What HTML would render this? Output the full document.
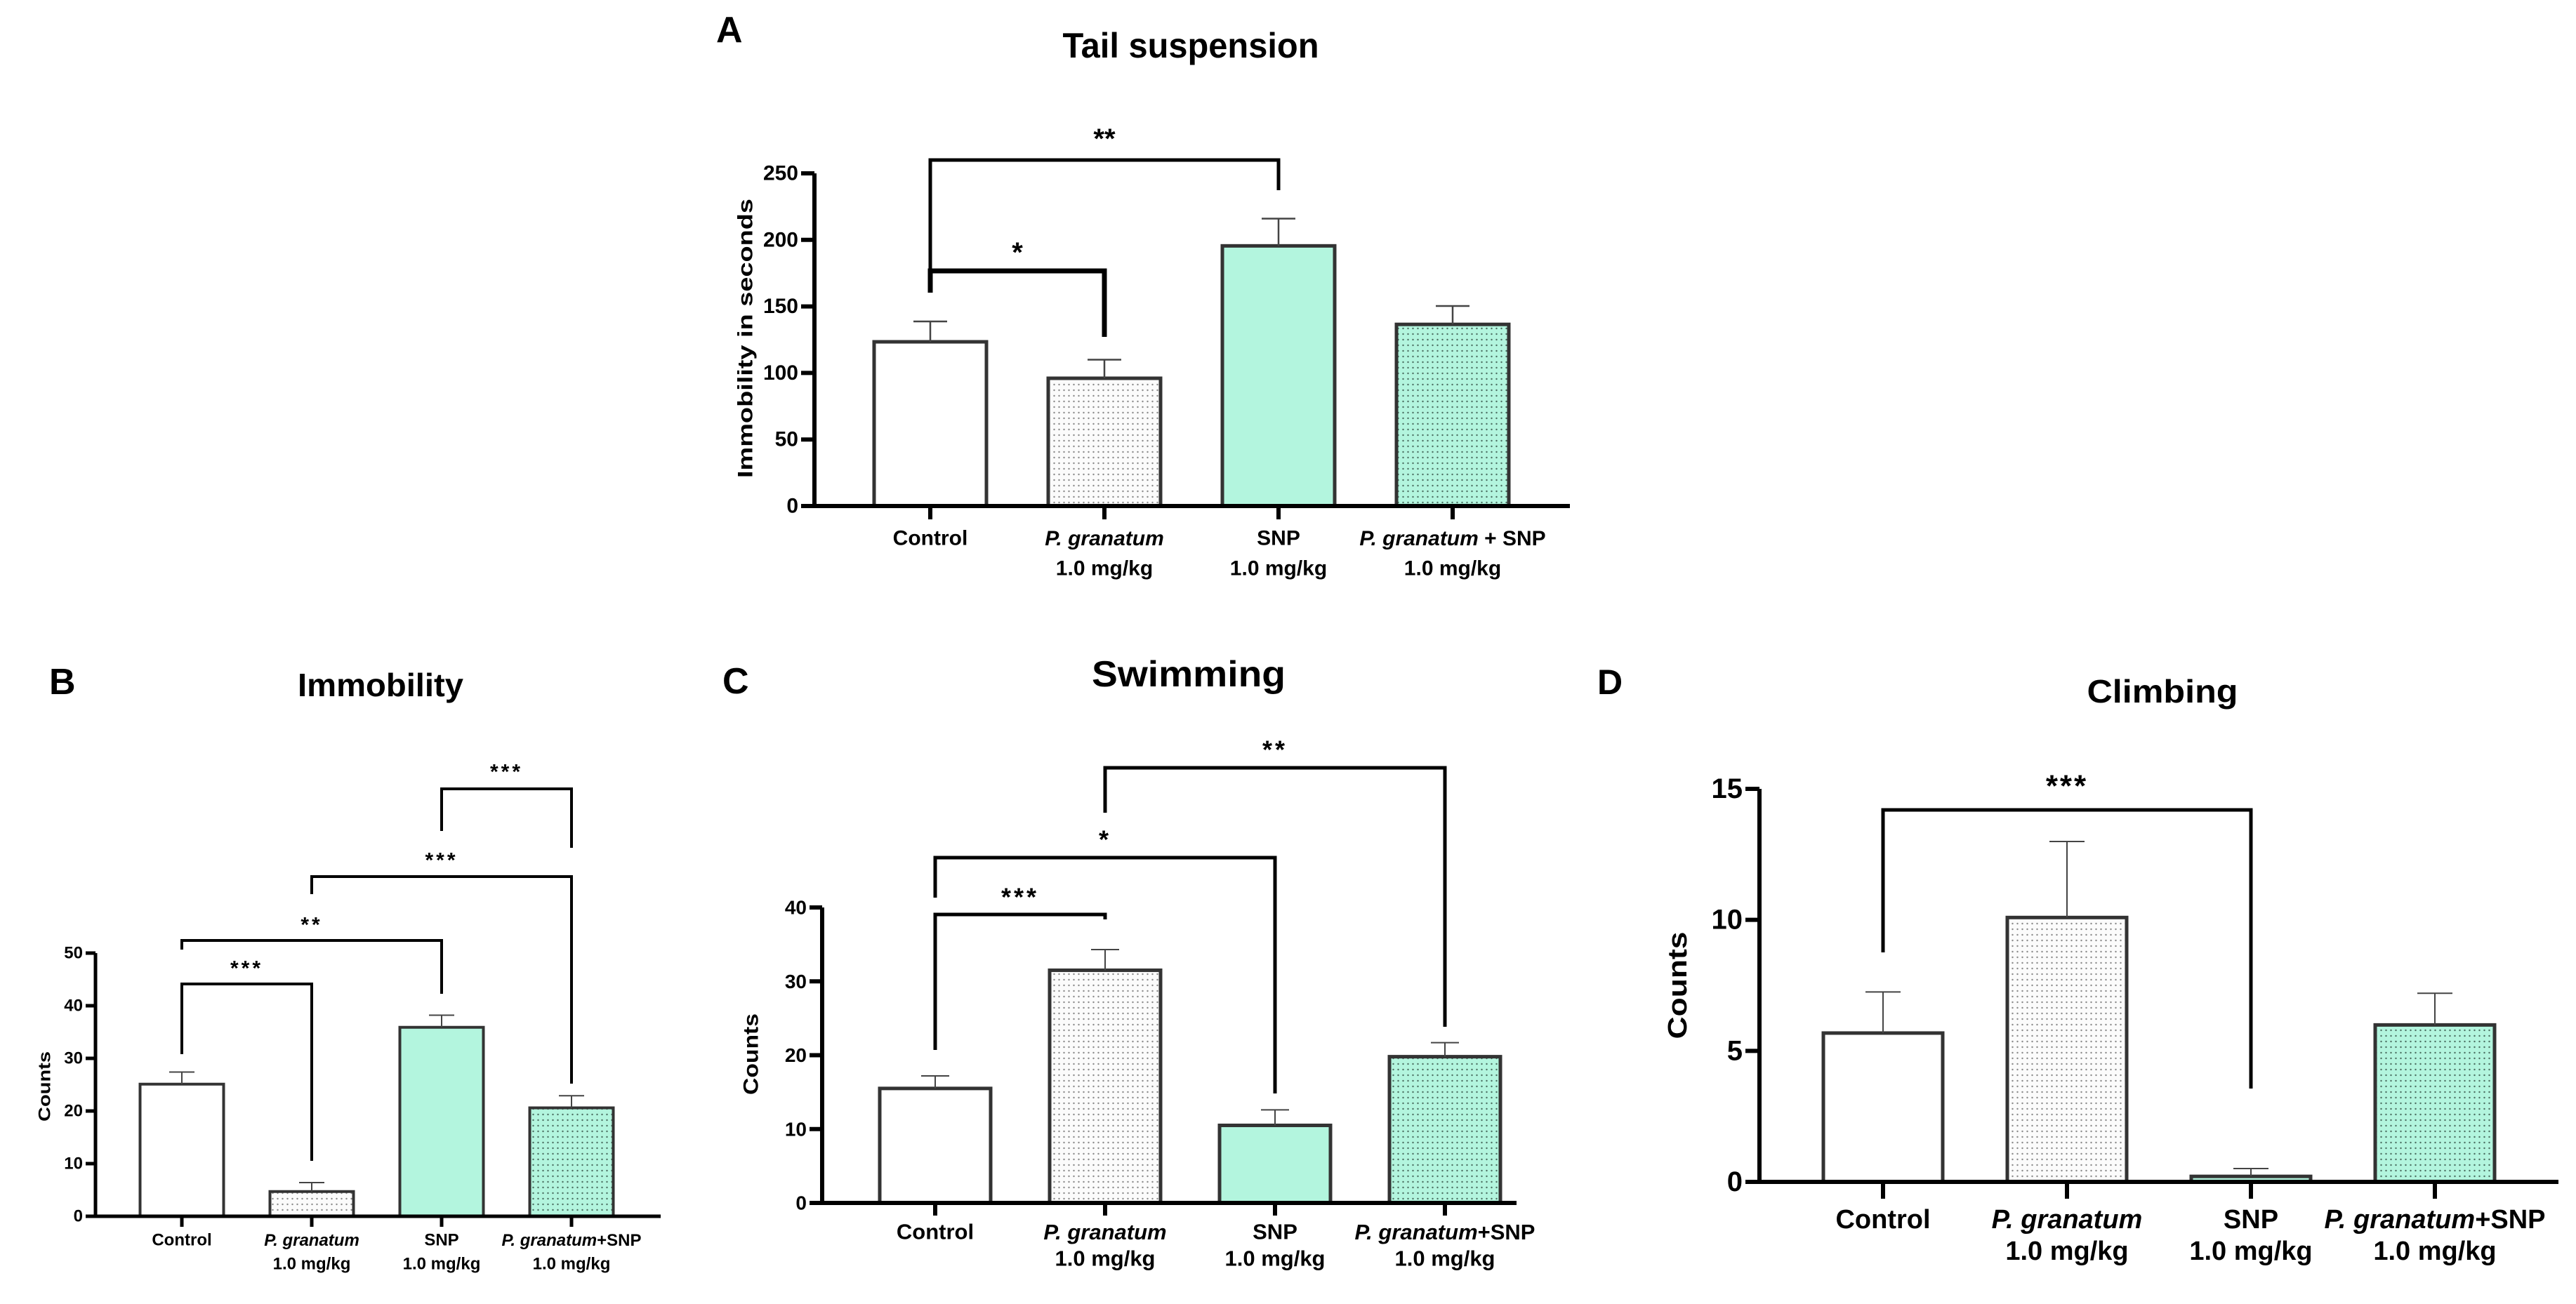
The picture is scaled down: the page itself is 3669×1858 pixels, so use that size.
<!DOCTYPE html>
<html><head><meta charset="utf-8"><style>
html,body{margin:0;padding:0;background:#fff;}
svg{display:block;font-family:"Liberation Sans",sans-serif;}
</style></head><body>
<svg id="fig" width="3669" height="1858" viewBox="0 0 3669 1858" xmlns="http://www.w3.org/2000/svg">
<defs>
<pattern id="dotsW" patternUnits="userSpaceOnUse" width="7" height="8"><rect width="7" height="8" fill="#fbfbfb"/><circle cx="3.5" cy="4" r="1.2" fill="#8a8a8a"/></pattern>
<pattern id="dotsG" patternUnits="userSpaceOnUse" width="7" height="8"><rect width="7" height="8" fill="#b3f5de"/><circle cx="3.5" cy="4" r="1.2" fill="#4c6f62"/></pattern>
</defs>
</svg>
<script>
const categories = ["Control", "P. granatum", "SNP", "P. granatum + SNP"];
const tailMeans = [123.4, 96, 195.5, 136.5];
const tailErrs = [15.3, 14, 20.5, 13.8];
const tailTicks = [0, 50, 100, 150, 200, 250];
const immMeans = [25.1, 4.7, 35.9, 20.6];
const immErrs = [2.3, 1.7, 2.3, 2.3];
const immTicks = [0, 10, 20, 30, 40, 50];
const swimMeans = [15.5, 31.5, 10.5, 19.8];
const swimErrs = [1.7, 2.8, 2.1, 1.9];
const swimTicks = [0, 10, 20, 30, 40];
const climbMeans = [5.68, 10.09, 0.21, 5.99];
const climbErrs = [1.57, 2.9, 0.3, 1.21];
const climbTicks = [0, 5, 10, 15];

const svg = document.getElementById('fig');
const NS = 'http://www.w3.org/2000/svg';
function mk(tag, attrs, parent) {
  const e = document.createElementNS(NS, tag);
  for (const k in attrs) e.setAttribute(k, attrs[k]);
  (parent || svg).appendChild(e);
  return e;
}
const fills = ['#ffffff', 'url(#dotsW)', '#b3f5de', 'url(#dotsG)'];

function panel(c, means, errs, ticks) {
  const g = mk('g', {});
  
  
  const max = ticks[ticks.length - 1];
  const y = v => c.y0 + (c.yTop - c.y0) * v / max;
  const cx = i => c.c0 + i * c.step;
  // panel letter
  const L = mk('text', {x: c.lx, y: c.ly, 'font-size': c.lfs, 'font-weight': 'bold'}, g);
  L.textContent = c.letter;
  
  
  const T = mk('text', {x: c.tx, y: c.ty, 'font-size': c.tfs, 'font-weight': 'bold', 'text-anchor': 'middle', 'dominant-baseline': 'central', textLength: c.tw, lengthAdjust: 'spacingAndGlyphs'}, g);
  T.textContent = c.title;
  
  
  // bars
  means.forEach((m, i) => {
    const b = mk('rect', {x: cx(i) - c.bw / 2, y: y(m), width: c.bw, height: c.y0 - y(m), fill: fills[i], stroke: '#333', 'stroke-width': c.bs}, g);
    
    
    const e = mk('path', {d: `M${cx(i)},${y(m)} V${y(m + errs[i])} M${cx(i) - c.cap / 2},${y(m + errs[i])} H${cx(i) + c.cap / 2}`, stroke: '#444', 'stroke-width': c.es, fill: 'none'}, g);
    
    
  });
  // axes
  const ax = mk('path', {d: `M${c.ax},${y(max)} V${c.y0} H${c.xEnd}`, stroke: '#000', 'stroke-width': c.aw, fill: 'none'}, g);
  
  
  ticks.forEach(t => {
    const tk = mk('path', {d: `M${c.ax - c.tl},${y(t)} H${c.ax}`, stroke: '#000', 'stroke-width': c.aw}, g);
    
    
    const tl = mk('text', {x: c.ax - c.tl - 4, y: y(t), 'font-size': c.tkfs, 'font-weight': 'bold', 'text-anchor': 'end', 'dominant-baseline': 'central'}, g);
    tl.textContent = t;
    
    
  });
  const yt = mk('text', {x: 0, y: 0, 'font-size': c.ytfs, 'font-weight': 'bold', 'text-anchor': 'middle', 'dominant-baseline': 'central', transform: `translate(${c.ytx},${c.yty}) rotate(-90)`, textLength: c.ytw, lengthAdjust: 'spacingAndGlyphs'}, g);
  yt.textContent = c.ytitle;
  
  
  categories.forEach((cat, i) => {
    const tk = mk('path', {d: `M${cx(i)},${c.y0} V${c.y0 + c.xtl}`, stroke: '#000', 'stroke-width': c.aw}, g);
    
    
    const t1 = mk('text', {x: cx(i), y: c.xl1, 'font-size': c.xfs, 'font-weight': 'bold', 'text-anchor': 'middle', 'dominant-baseline': 'central'}, g);
    
    
    if (cat.indexOf('P. granatum') === 0) {
      const s = mk('tspan', {'font-style': 'italic'}, t1);
      s.textContent = 'P. granatum';
      if (cat.length > 11) { const s2 = mk('tspan', {}, t1); s2.textContent = c.sep + 'SNP'; }
    } else t1.textContent = cat;
    if (i > 0) {
      const t2 = mk('text', {x: cx(i), y: c.xl2, 'font-size': c.xfs, 'font-weight': 'bold', 'text-anchor': 'middle', 'dominant-baseline': 'central'}, g);
      t2.textContent = '1.0 mg/kg';
      
      
    }
  });
  c.br.forEach(b => {
    const xl = cx(b[0]), xr = cx(b[1]);
    const p = mk('path', {d: `M${xl},${b[3]} V${b[2]} H${xr} V${b[4]}`, stroke: '#000', 'stroke-width': b[7] || c.brw, fill: 'none'}, g);
    
    
    const s = mk('text', {x: (xl + xr) / 2, y: b[5], 'font-size': c.sfs, 'font-weight': 'bold', 'text-anchor': 'middle', 'dominant-baseline': 'central', 'letter-spacing': c.sls}, g);
    s.textContent = b[6];
    
    
  });
}

panel({name: 'panel-a-tail-suspension', letter: 'A', lx: 1020, ly: 60, lfs: 52, title: 'Tail suspension', tx: 1696, ty: 65, tfs: 50, tw: 365,
  ax: 1160, y0: 721, yTop: 247, xEnd: 2236, c0: 1325, step: 248, bw: 160, bs: 5, es: 2.5, cap: 48, aw: 6, tl: 19, tkfs: 30,
  ytitle: 'Immobility in seconds', ytfs: 30, ytx: 1062, yty: 482, ytw: 398, xtl: 19, xl1: 767, xl2: 810, xfs: 30, sep: ' + ',
  sfs: 40, sls: 0, brw: 5,
  br: [[0, 2, 228, 417, 271, 198, '**'], [0, 1, 386, 417, 480, 360, '*', 7]]}, tailMeans, tailErrs, tailTicks);

panel({name: 'panel-b-immobility', letter: 'B', lx: 70, ly: 989, lfs: 52, title: 'Immobility', tx: 542, ty: 976, tfs: 46, tw: 236,
  ax: 136, y0: 1733, yTop: 1358, xEnd: 941, c0: 259, step: 185, bw: 119, bs: 4, es: 2, cap: 36, aw: 5, tl: 14, tkfs: 24,
  ytitle: 'Counts', ytfs: 24, ytx: 64, yty: 1548, ytw: 100, xtl: 15, xl1: 1767, xl2: 1801, xfs: 24, sep: '+',
  sfs: 30, sls: 4, brw: 4,
  br: [[0, 1, 1402, 1502, 1654, 1380, '***'], [0, 2, 1340, 1353, 1416, 1318, '**'], [1, 3, 1249, 1274, 1544, 1226, '***'], [2, 3, 1124, 1184, 1208, 1100, '***']]}, immMeans, immErrs, immTicks);

panel({name: 'panel-c-swimming', letter: 'C', lx: 1029, ly: 988, lfs: 52, title: 'Swimming', tx: 1693, ty: 961, tfs: 52, tw: 276,
  ax: 1171, y0: 1714, yTop: 1293, xEnd: 2160, c0: 1332, step: 242, bw: 158, bs: 5, es: 2, cap: 40, aw: 6, tl: 18, tkfs: 28,
  ytitle: 'Counts', ytfs: 30, ytx: 1070, yty: 1502, ytw: 116, xtl: 18, xl1: 1755, xl2: 1793, xfs: 31, sep: '+',
  sfs: 36, sls: 4, brw: 5,
  br: [[0, 1, 1303, 1496, 1310, 1278, '***'], [0, 2, 1222, 1279, 1558, 1196, '*'], [1, 3, 1094, 1158, 1463, 1068, '**']]}, swimMeans, swimErrs, swimTicks);

panel({name: 'panel-d-climbing', letter: 'D', lx: 2275, ly: 989, lfs: 50, title: 'Climbing', tx: 3080, ty: 985, tfs: 46, tw: 215,
  ax: 2506, y0: 1684, yTop: 1124, xEnd: 3644, c0: 2682, step: 262, bw: 170, bs: 5, es: 2, cap: 50, aw: 6, tl: 20, tkfs: 40,
  ytitle: 'Counts', ytfs: 38, ytx: 2390, yty: 1404, ytw: 153, xtl: 24, xl1: 1738, xl2: 1783, xfs: 38, sep: '+',
  sfs: 44, sls: 3, brw: 5,
  br: [[0, 2, 1154, 1357, 1551, 1120, '***']]}, climbMeans, climbErrs, climbTicks);
</script>
</body></html>
